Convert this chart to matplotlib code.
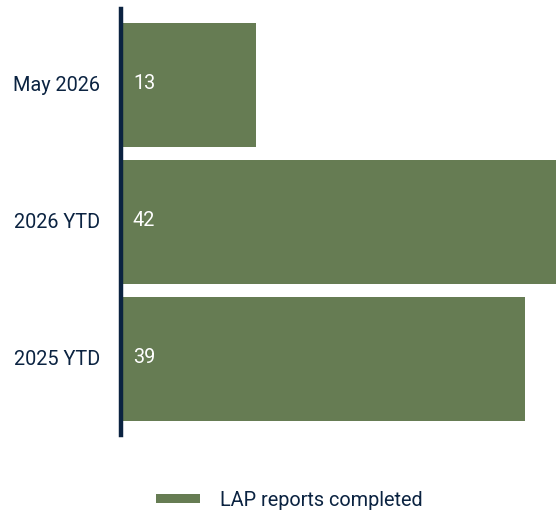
import matplotlib
matplotlib.use("Agg")
import matplotlib.pyplot as plt
from matplotlib.patches import Patch
from matplotlib.transforms import ScaledTranslation

categories = ["May 2026", "2026 YTD", "2025 YTD"]
values = [13, 42, 39]
series_name = "LAP reports completed"

bar_color = "#667c53"
text_color = "#0b2341"

plt.rcParams['font.family'] = ['Roboto', 'DejaVu Sans']
fs = 14.3

fig = plt.figure(figsize=(5.56, 5.12), dpi=100)
W, H = 556, 512
ax = fig.add_axes([121 / W, 1 - 435 / H, (556 - 121) / W, (435 - 9) / H])

pos = list(range(len(categories)))
ax.barh(pos, values, height=0.905, color=bar_color, zorder=1)
ax.set_xlim(0, 42)
ax.set_ylim(2.555, -0.555)

up = ScaledTranslation(0, 1.5 / 100, fig.dpi_scale_trans)
for p, v in zip(pos, values):
    ax.text(1.15, p, str(v), color="white", fontsize=fs, va="center", ha="left",
            transform=ax.transData + up)

ax.set_yticks(pos)
ax.set_yticklabels(categories, color=text_color, fontsize=fs)
ax.tick_params(axis="y", length=0, pad=15)
for lab in ax.get_yticklabels():
    lab.set_transform(lab.get_transform() + up)
ax.set_xticks([])
for s in ["top", "right", "bottom"]:
    ax.spines[s].set_visible(False)
ax.spines["left"].set_color(text_color)
ax.spines["left"].set_linewidth(3.2)
ax.spines["left"].set_zorder(3)

handle = Patch(facecolor=bar_color, edgecolor="none")
leg = fig.legend([handle], [series_name], loc="center",
                 bbox_to_anchor=(289.5 / W, 1 - 500 / H), frameon=False,
                 fontsize=fs, handlelength=2.2, handleheight=0.35,
                 handletextpad=1.0)
for t in leg.get_texts():
    t.set_color(text_color)

fig.savefig("out.png", dpi=100)
